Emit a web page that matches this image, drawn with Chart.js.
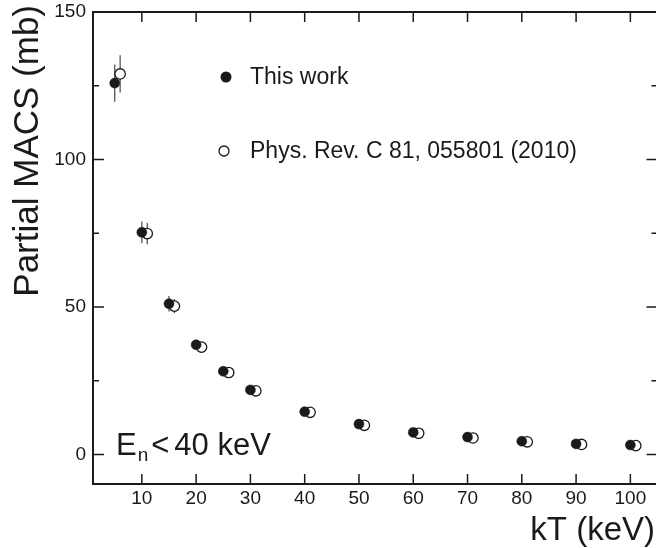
<!DOCTYPE html>
<html>
<head>
<meta charset="utf-8">
<script src="https://cdn.jsdelivr.net/npm/chart.js@4/dist/chart.umd.min.js"></script>
<style>
  html, body { margin: 0; padding: 0; background: #fff; overflow: hidden; }
  #wrap { width: 664px; height: 548px; }
</style>
</head>
<body>
<div id="wrap"><canvas id="chart"></canvas></div>
<script>
// kT values (keV)
const ktThisWork = [5, 10, 15, 20, 25, 30, 40, 50, 60, 70, 80, 90, 100];
const ktPrc = [6, 11, 16, 21, 26, 31, 41, 51, 61, 71, 81, 91, 101];
// Partial MACS (mb)
const macsThisWork = [125.9, 75.3, 51.1, 37.2, 28.2, 21.9, 14.5, 10.3, 7.5, 5.9, 4.5, 3.6, 3.2];
const errThisWork = [6.3, 3.7, 2.6, 1.6, 0.8, 0.6, 0.4, 0.3, 0.2, 0.2, 0.15, 0.1, 0.1];
const macsPrc = [129.0, 74.9, 50.3, 36.4, 27.8, 21.6, 14.3, 9.9, 7.2, 5.6, 4.3, 3.4, 3.0];
const errPrc = [6.3, 3.6, 2.4, 1.0, 0.7, 0.5, 0.4, 0.3, 0.2, 0.2, 0.15, 0.1, 0.1];
// axes
const xTicks = [10, 20, 30, 40, 50, 60, 70, 80, 90, 100];
const yTicks = [0, 50, 100, 150];
const yMinorTicks = [25, 75, 125];
const legendLabels = ["This work", "Phys. Rev. C 81, 055801 (2010)"];

const FONT = "'Liberation Sans', Arial, sans-serif";
const INK = "#1a1a1a";

function toPoints(xs, ys) {
  return xs.map((x, i) => ({ x: x, y: ys[i] }));
}

// Frame, inward ticks, error bars, legend and labels
const decorations = {
  id: 'decorations',
  beforeDatasetsDraw(chart) {
    const ctx = chart.ctx;
    const xs = chart.scales.x, ys = chart.scales.y;
    const a = chart.chartArea;
    ctx.save();
    // error bars
    ctx.strokeStyle = "#555";
    ctx.lineWidth = 1.3;
    [[ktThisWork, macsThisWork, errThisWork], [ktPrc, macsPrc, errPrc]].forEach(([kx, v, e]) => {
      kx.forEach((k, i) => {
        const px = xs.getPixelForValue(k);
        ctx.beginPath();
        ctx.moveTo(px, ys.getPixelForValue(v[i] - e[i]));
        ctx.lineTo(px, ys.getPixelForValue(v[i] + e[i]));
        ctx.stroke();
      });
    });
    // frame
    ctx.strokeStyle = INK;
    ctx.lineWidth = 2;
    ctx.strokeRect(a.left, a.top, a.right - a.left, a.bottom - a.top);
    ctx.lineWidth = 1.5;
    ctx.beginPath();
    xTicks.forEach(t => {
      const px = xs.getPixelForValue(t);
      ctx.moveTo(px, a.bottom); ctx.lineTo(px, a.bottom - 10);
      ctx.moveTo(px, a.top); ctx.lineTo(px, a.top + 10);
    });
    yTicks.forEach(t => {
      const py = ys.getPixelForValue(t);
      ctx.moveTo(a.left, py); ctx.lineTo(a.left + 11, py);
      ctx.moveTo(a.right, py); ctx.lineTo(a.right - 11, py);
    });
    yMinorTicks.forEach(t => {
      const py = ys.getPixelForValue(t);
      ctx.moveTo(a.left, py); ctx.lineTo(a.left + 6, py);
      ctx.moveTo(a.right, py); ctx.lineTo(a.right - 6, py);
    });
    ctx.stroke();
    ctx.restore();
  },
  afterDraw(chart) {
    const ctx = chart.ctx;
    ctx.save();
    ctx.fillStyle = INK;
    // legend
    ctx.beginPath();
    ctx.arc(226, 77, 5.5, 0, Math.PI * 2);
    ctx.fill();
    ctx.beginPath();
    ctx.arc(224, 151, 5, 0, Math.PI * 2);
    ctx.fillStyle = "#fff";
    ctx.fill();
    ctx.strokeStyle = INK;
    ctx.lineWidth = 1.3;
    ctx.stroke();
    ctx.fillStyle = INK;
    ctx.font = "23px " + FONT;
    ctx.textBaseline = "middle";
    ctx.textAlign = "left";
    ctx.fillText(legendLabels[0], 250, 78);
    ctx.fillText(legendLabels[1], 250, 152);
    // E_n < 40 keV
    ctx.textBaseline = "alphabetic";
    ctx.font = "31px " + FONT;
    ctx.fillText("E", 116, 455);
    let x = 116 + ctx.measureText("E").width;
    ctx.font = "19px " + FONT;
    ctx.fillText("n", x + 1, 461);
    x += ctx.measureText("n").width + 4;
    ctx.font = "31px " + FONT;
    ctx.fillText("<", x, 455);
    x += ctx.measureText("<").width + 5;
    ctx.fillText("40 keV", x, 455);
    // axis titles
    ctx.font = "33px " + FONT;
    ctx.textAlign = "right";
    ctx.fillText("kT (keV)", 655, 540);
    ctx.translate(38, 5);
    ctx.rotate(-Math.PI / 2);
    ctx.font = "35px " + FONT;
    ctx.textAlign = "right";
    ctx.fillText("Partial MACS (mb)", 0, 0);
    ctx.restore();
  }
};

new Chart(document.getElementById('chart'), {
  type: 'scatter',
  data: {
    datasets: [
      {
        label: legendLabels[0],
        data: toPoints(ktThisWork, macsThisWork),
        pointRadius: 5,
        pointBackgroundColor: INK,
        pointBorderColor: INK,
        pointBorderWidth: 0.5
      },
      {
        label: legendLabels[1],
        data: toPoints(ktPrc, macsPrc),
        pointRadius: 5.2,
        pointBackgroundColor: "#fff",
        pointBorderColor: INK,
        pointBorderWidth: 1.3
      }
    ]
  },
  options: {
    responsive: true,
    maintainAspectRatio: false,
    animation: false,
    layout: { padding: { top: 12, right: 5, left: 0, bottom: 0 } },
    plugins: { legend: { display: false }, tooltip: { enabled: false } },
    scales: {
      x: {
        type: 'linear',
        min: 1,
        max: 105,
        afterBuildTicks: s => { s.ticks = xTicks.map(v => ({ value: v })); },
        afterFit: s => { s.height = 64; s.paddingLeft = 0; s.paddingRight = 0; },
        grid: { display: false, drawTicks: false },
        border: { display: false },
        ticks: { color: INK, font: { family: FONT, size: 19 }, padding: 3, maxRotation: 0 }
      },
      y: {
        type: 'linear',
        min: -10,
        max: 150,
        afterBuildTicks: s => { s.ticks = yTicks.map(v => ({ value: v })); },
        afterFit: s => { s.width = 93; s.paddingTop = 0; s.paddingBottom = 0; },
        grid: { display: false, drawTicks: false },
        border: { display: false },
        ticks: { color: INK, font: { family: FONT, size: 19 }, padding: 7 }
      }
    }
  },
  plugins: [decorations]
});
</script>
</body>
</html>
